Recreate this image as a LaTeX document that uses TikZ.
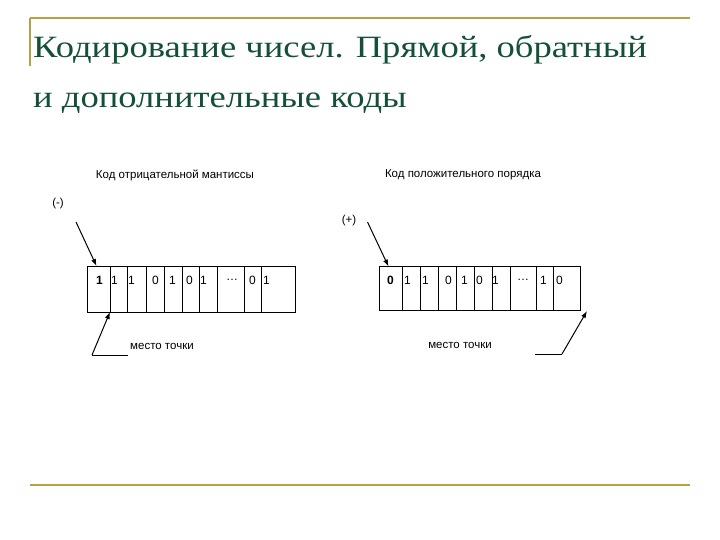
\documentclass[tikz,border=0pt]{standalone}
\usepackage{fontspec}
\usetikzlibrary{arrows.meta}
\setmainfont{Liberation Serif}
\newfontfamily\arial{Liberation Sans}
\definecolor{gold}{RGB}{184,160,70}
\definecolor{titlegreen}{RGB}{20,80,55}
\begin{document}
\begin{tikzpicture}[x=1pt,y=-1pt,
  lbl/.style={font=\arial\fontsize{11.5}{13}\selectfont,inner sep=0pt},
  dig/.style={font=\arial\fontsize{12}{14}\selectfont,inner sep=0pt,anchor=west},
  cell/.style={draw,line width=0.8pt},
  ttl/.style={anchor=base west,inner sep=0pt,text=titlegreen,font=\fontsize{31}{36}\selectfont,xscale=1.18},
  arr/.style={-{Latex[length=7pt,width=5pt]},line width=1pt}]
\useasboundingbox (0,0) rectangle (720,540);
\draw[gold,line width=1.3pt] (30,18) -- (690,18);
\draw[gold,line width=1.3pt] (30,18) -- (30,66);
\draw[gold,line width=1.3pt] (30,485) -- (690,485);
\node[ttl] (t1) at (33,58) {Кодирование чисел. Прямой, обратный};
\node[ttl] (t2) at (33,108) {и дополнительные коды};
\node[lbl] (h1) at (175,175) {Код отрицательной мантиссы};
\node[lbl] (h2) at (463,175) {Код положительного порядка};
% left box
\foreach \a/\b in {87.3/110,110/127.3,127.3/146,146/164.3,164.3/182.3,182.3/199.3,199.3/217.7,217.7/244.3,244.3/261.7,261.7/295}{
  \draw[cell] (\a,266) rectangle (\b,312);
}
\node[dig] (l1) at (96,280) {\textbf{1}};
\node[dig] (l2) at (111,280) {1};
\node[dig] (l3) at (128,280) {1};
\node[dig] (l4) at (152,280) {0};
\node[dig] (l5) at (169,280) {1};
\node[dig] (l6) at (186,280) {0};
\node[dig] (l7) at (200,280) {1};
\node[dig] (l8) at (226,280) {\dots};
\node[dig] (l9) at (249,280) {0};
\node[dig] (l10) at (263,280) {1};
\coordinate (lm) at (76,222);
\coordinate (lmt) at (96.5,266);
\draw[arr] (lm) -- (lmt);
\node[lbl] (mm) at (58,204) {(-)};
\coordinate (lp1) at (128,355);
\coordinate (lp2) at (92,355);
\coordinate (lpt) at (110,312);
\draw[line width=1pt] (lp1) -- (lp2);
\draw[arr] (lp2) -- (lpt);
\node[lbl,anchor=west] (lt) at (130,346) {место точки};
% right box
\foreach \a/\b in {379.3/402.3,402.3/420.3,420.3/438.3,438.3/456.3,456.3/474.7,474.7/492.3,492.3/510,510/536.7,536.7/553.3,553.3/580.7}{
  \draw[cell] (\a,266.5) rectangle (\b,310.7);
}
\node[dig] (r1) at (387,280) {\textbf{0}};
\node[dig] (r2) at (404,280) {1};
\node[dig] (r3) at (422,280) {1};
\node[dig] (r4) at (445,280) {0};
\node[dig] (r5) at (461,280) {1};
\node[dig] (r6) at (476,280) {0};
\node[dig] (r7) at (492,280) {1};
\node[dig] (r8) at (517,280) {\dots};
\node[dig] (r9) at (540,280) {1};
\node[dig] (r10) at (556,280) {0};
\node[lbl] (pp) at (349,221) {(+)};
\coordinate (rm) at (367.5,222);
\coordinate (rmt) at (388.5,266.5);
\draw[arr] (rm) -- (rmt);
\coordinate (rp1) at (535,354);
\coordinate (rp2) at (562,354);
\coordinate (rpt) at (587,311);
\draw[line width=1pt] (rp1) -- (rp2);
\draw[arr] (rp2) -- (rpt);
\node[lbl] (rt) at (460,345) {место точки};
\end{tikzpicture}
\end{document}
